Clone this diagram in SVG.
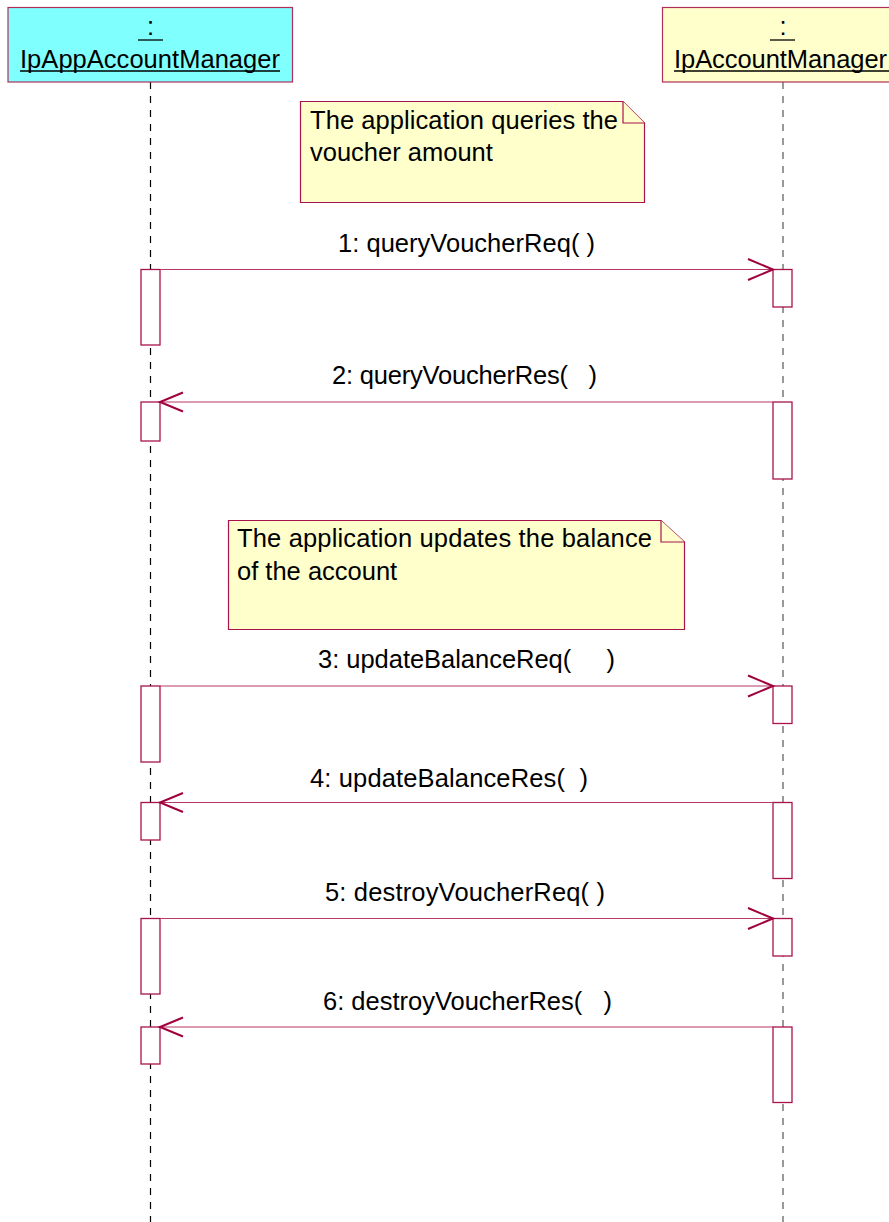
<svg xmlns="http://www.w3.org/2000/svg" width="889" height="1222" viewBox="0 0 889 1222">
<style>
text { font-family: "Liberation Sans", Arial, sans-serif; font-size: 25.5px; fill: #000; }
.lbl { white-space: pre; }
.hdr { stroke: #B0305A; stroke-width: 1.2; }
.note { fill: #FFFFCC; stroke: #A8134B; stroke-width: 1.2; }
.act { fill: #FFFFFF; stroke: #A8134B; stroke-width: 1.3; }
.msg { stroke: #B83A68; stroke-width: 1.2; fill: none; }
.head { stroke: #A0003C; stroke-width: 2; fill: none; }
.ul { stroke: #000; stroke-width: 1.3; }
</style>
<rect width="889" height="1222" fill="#FFFFFF"/>
<g id="lifelines">
<line x1="150.5" y1="82" x2="150.5" y2="1222" stroke="#000" stroke-width="1.2" stroke-dasharray="7,7"/>
<line x1="783" y1="82" x2="783" y2="1222" stroke="#808080" stroke-width="1.6" stroke-dasharray="7,7"/>
</g>
<g id="IpAppAccountManager">
<rect class="hdr" x="8" y="7.5" width="284.5" height="74.5" fill="#80FFFF"/>
<text x="150.5" y="35" text-anchor="middle">:</text>
<line class="ul" x1="138" y1="40" x2="163" y2="40"/>
<text x="150" y="68" text-anchor="middle" textLength="260" lengthAdjust="spacing">IpAppAccountManager</text>
<line class="ul" x1="20" y1="71" x2="280" y2="71"/>
</g>
<g id="IpAccountManager">
<rect class="hdr" x="662.5" y="7.5" width="242" height="74.5" fill="#FFFFCC"/>
<text x="783" y="35" text-anchor="middle">:</text>
<line class="ul" x1="770" y1="40" x2="795" y2="40"/>
<text x="674" y="68" textLength="213" lengthAdjust="spacing">IpAccountManager</text>
<line class="ul" x1="674" y1="71" x2="889" y2="71"/>
</g>
<g id="note1">
<path class="note" d="M300.5,101.5 H623 L644.5,123 V202.5 H300.5 Z"/>
<path class="note" d="M623,101.5 V123 H644.5" fill="none"/>
<text x="310" y="129" textLength="308" lengthAdjust="spacing">The application queries the</text>
<text x="310" y="161">voucher amount</text>
</g>
<g id="note2">
<path class="note" d="M228.5,520.5 H661 L684.5,542 V629.5 H228.5 Z"/>
<path class="note" d="M661,520.5 V542 H684.5" fill="none"/>
<text x="237" y="547" textLength="415" lengthAdjust="spacing">The application updates the balance</text>
<text x="237" y="580">of the account</text>
</g>
<g id="activations">
<rect class="act" x="141" y="269.5" width="19" height="75.5"/>
<rect class="act" x="773" y="269.5" width="19" height="37.5"/>
<rect class="act" x="141" y="402" width="19" height="39"/>
<rect class="act" x="773" y="402" width="19" height="77"/>
<rect class="act" x="141" y="686" width="19" height="76"/>
<rect class="act" x="773" y="686" width="19" height="37.5"/>
<rect class="act" x="141" y="802.5" width="19" height="37.5"/>
<rect class="act" x="773" y="802.5" width="19" height="76"/>
<rect class="act" x="141" y="918.5" width="19" height="75.5"/>
<rect class="act" x="773" y="918.5" width="19" height="37.5"/>
<rect class="act" x="141" y="1027" width="19" height="37"/>
<rect class="act" x="773" y="1027" width="19" height="75.5"/>
</g>
<g id="connectors">
<line class="msg" x1="160" y1="269.5" x2="773" y2="269.5"/>
<polyline class="head" points="748,259 773,269.5 748,280"/>
<line class="msg" x1="773" y1="402" x2="160" y2="402"/>
<polyline class="head" points="183,392.5 160,402 183,411.5"/>
<line class="msg" x1="160" y1="686" x2="773" y2="686"/>
<polyline class="head" points="748,675.5 773,686 748,696.5"/>
<line class="msg" x1="773" y1="802.5" x2="160" y2="802.5"/>
<polyline class="head" points="183,793 160,802.5 183,812"/>
<line class="msg" x1="160" y1="918.5" x2="773" y2="918.5"/>
<polyline class="head" points="748,908 773,918.5 748,929"/>
<line class="msg" x1="773" y1="1027" x2="160" y2="1027"/>
<polyline class="head" points="183,1017.5 160,1027 183,1036.5"/>
</g>
<g id="labels">
<text class="lbl" xml:space="preserve" x="338" y="252" textLength="257" lengthAdjust="spacing">1: queryVoucherReq( )</text>
<text class="lbl" xml:space="preserve" x="332" y="384" textLength="265" lengthAdjust="spacing">2: queryVoucherRes(   )</text>
<text class="lbl" xml:space="preserve" x="318" y="668" textLength="297" lengthAdjust="spacing">3: updateBalanceReq(     )</text>
<text class="lbl" xml:space="preserve" x="310" y="787" textLength="278" lengthAdjust="spacing">4: updateBalanceRes(  )</text>
<text class="lbl" xml:space="preserve" x="325" y="901" textLength="280" lengthAdjust="spacing">5: destroyVoucherReq( )</text>
<text class="lbl" xml:space="preserve" x="323" y="1010" textLength="289" lengthAdjust="spacing">6: destroyVoucherRes(   )</text>
</g>
</svg>
